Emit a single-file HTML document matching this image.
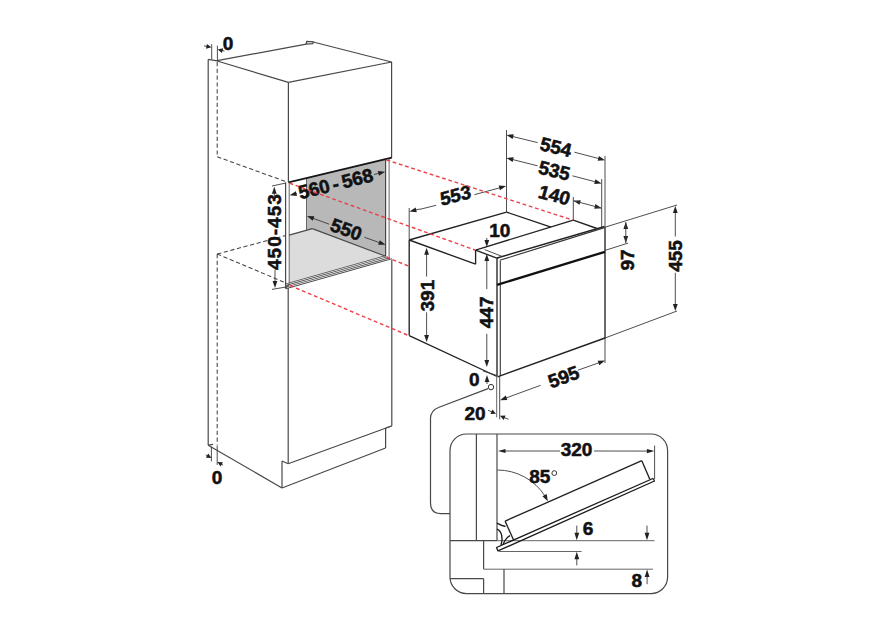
<!DOCTYPE html>
<html><head><meta charset="utf-8"><style>
html,body{margin:0;padding:0;background:#fff;}
svg{display:block;}
.k{stroke:#484848;stroke-width:1.2;fill:none;}
.k2{stroke:#666;stroke-width:1;fill:none;}
.th{stroke:#151515;stroke-width:1.7;fill:none;}
.sh{stroke:#555;stroke-width:0.7;fill:none;}
.g{stroke:#444;stroke-width:1.05;stroke-dasharray:4.2 2.6;fill:none;}
.r{stroke:#ec3f47;stroke-width:1.4;stroke-dasharray:3.8 2.7;fill:none;}
.o{stroke:#222;stroke-width:1.35;fill:none;}
.o2{stroke:#333;stroke-width:1.1;fill:none;}
.o4{stroke:#1a1a1a;stroke-width:1.3;fill:none;stroke-linejoin:round;}
.hg{stroke:#1a1a1a;stroke-width:1.35;fill:none;}
.o3{stroke:#111;stroke-width:2.3;fill:none;}
.d{stroke:#3a3a3a;stroke-width:0.9;fill:none;}
.ah{fill:#222;stroke:none;}
.t{font-family:"Liberation Sans",sans-serif;font-weight:bold;fill:#111;stroke:#111;stroke-width:0.55;text-anchor:middle;}
.ls1{letter-spacing:1px;}
.dg{font-family:"Liberation Sans",sans-serif;fill:#222;text-anchor:middle;}
</style></head><body>
<svg width="885" height="626" viewBox="0 0 885 626">
<polygon fill="#b8b8b8" stroke="none" points="306.5,178.1 385.7,159.1 385.7,256.2 312.3,228.6 306.5,230.2"/>
<polygon fill="#dcdcdc" stroke="none" points="289.1,235.1 312.3,228.6 385.7,256.2 289.2,283.6 289.2,283"/>
<line class="k" x1="208.2" y1="59.4" x2="217.2" y2="60.9"/>
<line class="k" x1="217.2" y1="60.6" x2="306.2" y2="44.2"/>
<path class="k" d="M306.2,44.2 L306.7,41.4 L313.2,41.9 L312.8,43.7 Z"/>
<line class="k" x1="313.2" y1="42" x2="391.6" y2="62"/>
<line class="k" x1="217.2" y1="61" x2="288.4" y2="82.4"/>
<line class="k" x1="288.4" y1="82.4" x2="391.6" y2="62"/>
<line class="k" x1="208.2" y1="59.4" x2="208.2" y2="445.2"/>
<line class="k" x1="288.4" y1="82.4" x2="288.4" y2="182.4"/>
<line class="k" x1="391.6" y1="62" x2="391.6" y2="158"/>
<line class="k" x1="391.8" y1="259.8" x2="391.8" y2="426"/>
<line class="k" x1="288.2" y1="288" x2="288.2" y2="463.8"/>
<line class="k" x1="285.6" y1="182.6" x2="285.6" y2="288.4"/>
<line class="k2" x1="289.2" y1="182.4" x2="289.2" y2="283.6"/>
<line class="k" x1="385.6" y1="159.4" x2="385.6" y2="256.3"/>
<line class="k2" x1="389.1" y1="159" x2="389.1" y2="258.4"/>
<line class="k" x1="285.6" y1="288.4" x2="289.2" y2="284.2"/>
<line class="k2" x1="306.5" y1="178.3" x2="306.5" y2="230.2"/>
<line class="k" x1="289.1" y1="235.1" x2="312.3" y2="228.6"/>
<line class="k" x1="312.3" y1="228.6" x2="385.7" y2="256.2"/>
<line class="th" x1="288.6" y1="182.4" x2="391.8" y2="157.6"/>
<path d="M285.80,283.45 L385.60,255.16 L385.60,256.06 L285.80,284.35 Z M285.80,285.08 L387.67,256.20 L387.67,257.10 L285.80,285.98 Z M285.80,286.71 L389.74,257.24 L389.74,258.14 L285.80,287.61 Z M285.80,288.34 L391.81,258.29 L391.81,259.19 L285.80,289.24 Z " fill="#4a4a4a" stroke="none"/>
<line class="k" x1="208.2" y1="445.2" x2="282" y2="488"/>
<line class="k" x1="282" y1="461" x2="282" y2="488"/>
<line class="k" x1="282" y1="488" x2="385.6" y2="448"/>
<line class="k" x1="385.6" y1="428" x2="385.6" y2="448"/>
<line class="k" x1="282" y1="461" x2="288.2" y2="463.8"/>
<line class="k" x1="288.2" y1="463.8" x2="391.6" y2="426"/>
<line class="k" x1="385.6" y1="428" x2="391.6" y2="426"/>
<line class="g" x1="217.2" y1="62" x2="217.2" y2="156.8"/>
<line class="g" x1="217.2" y1="156.8" x2="287" y2="182"/>
<line class="g" x1="217.2" y1="254" x2="286" y2="235.5"/>
<line class="g" x1="217.2" y1="254" x2="286" y2="283"/>
<line class="g" x1="217.2" y1="254" x2="217.2" y2="445.6"/>
<line class="o" x1="409.2" y1="240" x2="506.5" y2="212.1"/>
<line class="o" x1="506.5" y1="212.1" x2="551" y2="227.2"/>
<line class="o" x1="475.6" y1="250.1" x2="573.3" y2="220.1"/>
<line class="o" x1="573.3" y1="220.1" x2="597" y2="228.5"/>
<line class="o" x1="409.2" y1="240" x2="409.2" y2="335.6"/>
<line class="o" x1="409.2" y1="240" x2="475.6" y2="264.2"/>
<line class="o" x1="475.6" y1="264.2" x2="475.6" y2="250.1"/>
<line class="o" x1="475.6" y1="250.1" x2="498.2" y2="258.7"/>
<line class="o" x1="497" y1="258" x2="604.5" y2="226.5"/>
<line class="o2" x1="499.7" y1="260.3" x2="604.5" y2="227.6"/>
<line class="o" x1="497" y1="258.7" x2="497" y2="376.5"/>
<line class="o2" x1="500.3" y1="261" x2="500.3" y2="376"/>
<line class="o" x1="605" y1="227" x2="605" y2="338.5"/>
<line class="o3" x1="497" y1="284.8" x2="605" y2="251.8"/>
<line class="o" x1="409.2" y1="335.6" x2="497" y2="376.5"/>
<line class="o" x1="497.5" y1="376.8" x2="605" y2="338"/>
<line class="d" x1="409.2" y1="208" x2="409.2" y2="240"/>
<line class="d" x1="420" y1="209.3" x2="436.1" y2="205.3"/>
<line class="d" x1="420" y1="209" x2="415.2518797938415" y2="210.07504608441323"/>
<polygon class="ah" points="409.40,211.40 415.70,207.51 416.76,212.19"/>
<line class="d" x1="474.4" y1="194.7" x2="500.3093144840218" y2="187.67097461947674"/>
<polygon class="ah" points="506.10,186.10 499.97,190.25 498.72,185.62"/>
<line class="d" x1="506.5" y1="130" x2="506.5" y2="212"/>
<line class="d" x1="537.6" y1="142.6" x2="512.2295414178107" y2="136.4200164992103"/>
<polygon class="ah" points="506.40,135.00 513.77,134.32 512.63,138.99"/>
<line class="d" x1="574.4" y1="152.2" x2="599.2938948906303" y2="158.68700844055513"/>
<polygon class="ah" points="605.10,160.20 597.72,160.76 598.93,156.11"/>
<line class="d" x1="537.6" y1="165.8" x2="512.2208550008719" y2="159.45521375021798"/>
<polygon class="ah" points="506.40,158.00 513.77,157.37 512.61,162.03"/>
<line class="d" x1="572.4" y1="175.8" x2="595.7934525774672" y2="181.88870683523118"/>
<polygon class="ah" points="601.60,183.40 594.22,183.96 595.43,179.31"/>
<polygon class="ah" points="573.40,200.70 580.78,200.13 579.57,204.78"/>
<polygon class="ah" points="601.60,208.20 594.22,208.73 595.45,204.09"/>
<line class="d" x1="573.4" y1="200.7" x2="601.6" y2="208.2"/>
<line class="d" x1="573.3" y1="197" x2="573.3" y2="220"/>
<line class="d" x1="601.7" y1="179" x2="601.7" y2="227"/>
<line class="d" x1="605" y1="156" x2="605" y2="227"/>
<line class="d" x1="605" y1="227.2" x2="677" y2="205"/>
<line class="d" x1="605" y1="250.4" x2="628.1" y2="243.1"/>
<line class="d" x1="605" y1="338" x2="677" y2="311"/>
<polygon class="ah" points="625.80,222.00 628.20,229.00 623.40,229.00"/>
<polygon class="ah" points="625.80,243.10 623.40,236.10 628.20,236.10"/>
<line class="d" x1="625.8" y1="222" x2="625.8" y2="243"/>
<line class="d" x1="675.3" y1="236.5" x2="675.3" y2="212.0"/>
<polygon class="ah" points="675.30,206.00 677.70,213.00 672.90,213.00"/>
<line class="d" x1="675.3" y1="272.8" x2="675.3" y2="305.0"/>
<polygon class="ah" points="675.30,311.00 672.90,304.00 677.70,304.00"/>
<line class="d" x1="426.6" y1="276.5" x2="426.6" y2="253.7"/>
<polygon class="ah" points="426.60,247.70 429.00,254.70 424.20,254.70"/>
<line class="d" x1="426.6" y1="312.3" x2="426.6" y2="336.0"/>
<polygon class="ah" points="426.60,342.00 424.20,335.00 429.00,335.00"/>
<line class="d" x1="486.8" y1="289.1" x2="486.8" y2="260.1"/>
<polygon class="ah" points="486.80,254.10 489.20,261.10 484.40,261.10"/>
<line class="d" x1="486.8" y1="333.8" x2="486.8" y2="361.0"/>
<polygon class="ah" points="486.80,367.00 484.40,360.00 489.20,360.00"/>
<line class="d" x1="486.8" y1="238" x2="486.8" y2="241.1"/>
<polygon class="ah" points="486.80,247.10 484.40,240.10 489.20,240.10"/>
<line class="d" x1="484.6" y1="249.6" x2="502.8" y2="256.7"/>
<line class="d" x1="483" y1="371" x2="497" y2="375.5"/>
<line class="d" x1="487" y1="384" x2="487.0" y2="381.0"/>
<polygon class="ah" points="487.00,375.00 489.40,382.00 484.60,382.00"/>
<circle cx="491" cy="387.1" r="2.7" fill="#fff" stroke="#333" stroke-width="1"/>
<line class="d" x1="540.6" y1="385.3" x2="505.63265977878444" y2="398.1328416082786"/>
<polygon class="ah" points="500.00,400.20 505.74,395.54 507.40,400.04"/>
<line class="d" x1="577.9" y1="370.2" x2="599.4420579985027" y2="362.59692070641086"/>
<polygon class="ah" points="605.10,360.60 599.30,365.19 597.70,360.67"/>
<line class="d" x1="605" y1="338" x2="605" y2="363"/>
<line class="k2" x1="496.7" y1="376" x2="496.7" y2="417.3"/>
<line class="d" x1="499.7" y1="376" x2="499.7" y2="419.3"/>
<line class="d" x1="488" y1="410.2" x2="492.35231397929954" y2="412.1585412906848"/>
<polygon class="ah" points="496.00,413.80 490.46,413.94 492.43,409.56"/>
<line class="d" x1="508.6" y1="419.3" x2="503.70492669922817" y2="417.3078190054998"/>
<polygon class="ah" points="500.00,415.80 505.54,415.46 503.73,419.91"/>
<line class="d" x1="211.7" y1="44.2" x2="211.7" y2="59.4"/>
<line class="d" x1="217.4" y1="45.7" x2="217.4" y2="60.9"/>
<line class="d" x1="204" y1="45.9" x2="207.46033097477167" y2="46.50789598205448"/>
<polygon class="ah" points="211.40,47.20 206.06,48.70 206.89,43.97"/>
<line class="d" x1="224.5" y1="51.1" x2="221.58057000058133" y2="50.370142500145334"/>
<polygon class="ah" points="217.70,49.40 223.13,48.28 221.97,52.94"/>
<line class="d" x1="211.4" y1="446.7" x2="211.4" y2="461.4"/>
<line class="d" x1="217.2" y1="446" x2="217.2" y2="464.9"/>
<line class="d" x1="205.8" y1="454.9" x2="207.92702743150218" y2="456.1154442465727"/>
<polygon class="ah" points="211.40,458.10 205.87,457.70 208.25,453.54"/>
<line class="d" x1="223" y1="465.1" x2="220.87297256849783" y2="463.8845557534273"/>
<polygon class="ah" points="217.40,461.90 222.93,462.30 220.55,466.46"/>
<line class="k" x1="208.2" y1="445.2" x2="213" y2="444.3"/>
<line class="d" x1="272" y1="186" x2="286" y2="183"/>
<line class="d" x1="274.3" y1="196" x2="274.3" y2="192.8"/>
<polygon class="ah" points="274.30,186.80 276.70,193.80 271.90,193.80"/>
<line class="d" x1="272" y1="289.4" x2="286" y2="287"/>
<line class="d" x1="275" y1="270" x2="275.0" y2="282.0"/>
<polygon class="ah" points="275.00,288.00 272.60,281.00 277.40,281.00"/>
<line class="d" x1="297" y1="193.5" x2="295.4300056189717" y2="193.881890525115"/>
<polygon class="ah" points="289.60,195.30 295.83,191.31 296.97,195.98"/>
<line class="d" x1="374" y1="174.5" x2="379.379144999128" y2="173.155213750218"/>
<polygon class="ah" points="385.20,171.70 378.99,175.73 377.83,171.07"/>
<line class="d" x1="329.2" y1="224.2" x2="312.6365333011628" y2="218.15657296123507"/>
<polygon class="ah" points="307.00,216.10 314.40,216.24 312.75,220.75"/>
<line class="d" x1="364.5" y1="237.3" x2="379.9465239393255" y2="242.79047059454697"/>
<polygon class="ah" points="385.60,244.80 378.20,244.72 379.81,240.19"/>
<path class="k" d="M488,388.6 L439.1,407.2 Q430.5,410.5 430.5,418.3 L430.5,503 Q430.5,513.6 441,513.6 L450,513.6"/>
<rect class="k" x="450" y="434" width="217.6" height="159.6" rx="16.5" ry="16.5" fill="none"/>
<line class="k" x1="476.4" y1="434" x2="476.4" y2="540.6"/>
<line class="k" x1="497" y1="434" x2="497" y2="540.6"/>
<line class="k" x1="450" y1="540.7" x2="497" y2="540.7"/>
<line class="k2" x1="497" y1="540.7" x2="654.6" y2="540.7"/>
<line class="k" x1="483.6" y1="540.6" x2="483.6" y2="569"/>
<line class="k2" x1="483.6" y1="569.2" x2="652.9" y2="569.2"/>
<line class="k" x1="504" y1="569" x2="504" y2="593.6"/>
<line class="k" x1="450" y1="578.6" x2="483.6" y2="578.6"/>
<line class="k" x1="483.6" y1="578.6" x2="483.6" y2="593.6"/>
<line class="k2" x1="499" y1="551.5" x2="581.6" y2="551.5"/>
<line class="d" x1="560" y1="451" x2="504.5" y2="451.0"/>
<polygon class="ah" points="498.00,451.00 505.50,448.90 505.50,453.10"/>
<line class="d" x1="594" y1="451" x2="647.9000089085822" y2="451.08923842534534"/>
<polygon class="ah" points="654.40,451.10 646.90,453.19 646.90,448.99"/>
<line class="d" x1="654.6" y1="445.6" x2="654.6" y2="479.3"/>
<path class="d" d="M497.5,470 A57,57 0 0 1 545,496"/>
<polygon class="ah" points="547.80,501.30 542.46,496.18 546.72,493.98"/>
<line class="o" x1="505.1" y1="521.1" x2="641.8" y2="460.7"/>
<line class="o" x1="641.8" y1="460.7" x2="649.8" y2="479.3"/>
<line class="o" x1="505.1" y1="521.1" x2="513.7" y2="540.3"/>
<path class="o4" d="M496.5,547.5 L652.9,478.5 L654.5,481.0 L498,550.9 Z"/>
<path class="hg" d="M497,523.2 C500,525 503,526 505.5,526.5"/>
<path class="hg" d="M497,529.2 C501.5,531 503.5,538 501,545"/>
<path class="hg" d="M503,544.5 C505,540 507,537 510,535.6"/>
<line class="d" x1="576.8" y1="525.6" x2="576.8" y2="533.8"/>
<polygon class="ah" points="576.80,540.30 574.40,532.80 579.20,532.80"/>
<line class="d" x1="647" y1="525.6" x2="647.0" y2="533.8"/>
<polygon class="ah" points="647.00,540.30 644.60,532.80 649.40,532.80"/>
<line class="d" x1="576.8" y1="565.4" x2="576.8" y2="558.3"/>
<polygon class="ah" points="576.80,551.80 579.20,559.30 574.40,559.30"/>
<line class="d" x1="647.1" y1="584.2" x2="647.1" y2="575.9"/>
<polygon class="ah" points="647.10,569.40 649.50,576.90 644.70,576.90"/>
<g transform="translate(228.1,43) rotate(0)"><text class="t" x="0" y="6.84" font-size="19">0</text></g>
<g transform="translate(217,477) rotate(0)"><text class="t" x="0" y="6.84" font-size="19">0</text></g>
<g transform="translate(335.5,183.5) rotate(-14)"><text class="t" x="0" y="6.84" font-size="19">560 <tspan dx="-2">-</tspan> <tspan dx="-2">5</tspan>68</text></g>
<g transform="translate(346.3,229.2) rotate(20)"><text class="t" x="0" y="6.84" font-size="19">550</text></g>
<g transform="translate(274.2,231.6) rotate(-90)"><text class="t ls1" x="0" y="6.84" font-size="19">450-453</text></g>
<g transform="matrix(0.9659,-0.2588,0.1392,0.9903,455.5,195.2)"><text class="t" x="0" y="6.84" font-size="19">553</text></g>
<g transform="matrix(0.9703,0.2419,-0.2250,0.9744,556,146.9)"><text class="t" x="0" y="6.84" font-size="19">554</text></g>
<g transform="matrix(0.9703,0.2419,-0.2250,0.9744,554.3,170.3)"><text class="t" x="0" y="6.84" font-size="19">535</text></g>
<g transform="matrix(0.9659,0.2588,-0.2756,0.9613,554.5,194.9)"><text class="t" x="0" y="6.84" font-size="19">140</text></g>
<g transform="translate(499.7,230.5) rotate(0)"><text class="t" x="0" y="6.84" font-size="19">10</text></g>
<g transform="translate(426.8,295.6) rotate(-90)"><text class="t" x="0" y="6.84" font-size="19">391</text></g>
<g transform="translate(486.4,312.4) rotate(-90)"><text class="t" x="0" y="6.84" font-size="19">447</text></g>
<g transform="translate(626.8,260) rotate(-90)"><text class="t" x="0" y="6.84" font-size="19">97</text></g>
<g transform="translate(674.9,256) rotate(-90)"><text class="t" x="0" y="6.84" font-size="19">455</text></g>
<g transform="translate(474.3,379) rotate(0)"><text class="t" x="0" y="6.84" font-size="19">0</text></g>
<g transform="translate(563.5,376.7) rotate(-20)"><text class="t" x="0" y="6.84" font-size="19">595</text></g>
<g transform="translate(475.1,413.2) rotate(0)"><text class="t" x="0" y="6.84" font-size="19">20</text></g>
<g transform="translate(576.5,449.5) rotate(0)"><text class="t" x="0" y="6.84" font-size="19">320</text></g>
<g transform="translate(539.7,476.4) rotate(0)"><text class="t" x="0" y="6.84" font-size="19">85</text></g>
<circle cx="554.3" cy="473.1" r="2.4" fill="none" stroke="#222" stroke-width="0.9"/>
<g transform="translate(588,528.6) rotate(0)"><text class="t" x="0" y="6.84" font-size="19">6</text></g>
<g transform="translate(636.9,580.5) rotate(0)"><text class="t" x="0" y="6.84" font-size="19">8</text></g>
<line class="r" x1="289.5" y1="183.2" x2="475" y2="250"/>
<line class="r" x1="386.5" y1="160" x2="572.5" y2="220"/>
<line class="r" x1="290" y1="285.5" x2="409.2" y2="335.8"/>
<line class="r" x1="386.5" y1="257.3" x2="409.2" y2="266.3"/>
</svg>
</body></html>
